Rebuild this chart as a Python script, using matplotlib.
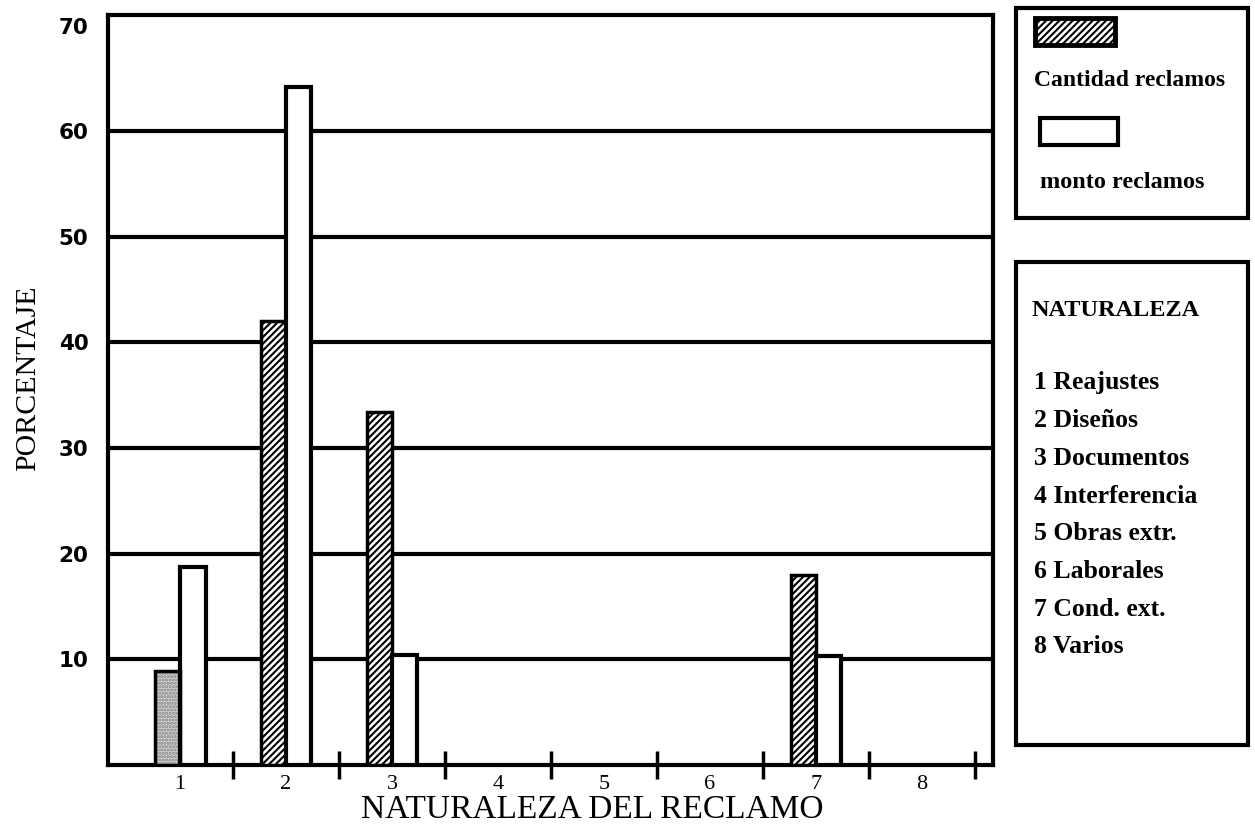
import matplotlib
matplotlib.use("Agg")
import matplotlib.pyplot as plt
from matplotlib.patches import Rectangle
import numpy as np

categories = [1, 2, 3, 4, 5, 6, 7, 8]
cantidad = [8.9, 42.0, 33.4, 0, 0, 0, 18.0, 0]
monto = [18.7, 64.2, 10.4, 0, 0, 0, 10.3, 0]
y_ticks = [10, 20, 30, 40, 50, 60, 70]
naturaleza = ["1 Reajustes", "2 Diseños", "3 Documentos", "4 Interferencia",
              "5 Obras extr.", "6 Laborales", "7 Cond. ext.", "8 Varios"]

SERIF = ["Liberation Serif", "DejaVu Serif"]
plt.rcParams["hatch.linewidth"] = 1.5

fig = plt.figure(figsize=(12.55, 8.34), dpi=100)
ax = fig.add_axes([108/1255, 1-765/834, (993-108)/1255, (765-15)/834])

ax.set_xlim(0.32, 8.67)
ax.set_ylim(0, 71)

for y in y_ticks[:-1]:
    ax.axhline(y, color="black", lw=3, zorder=1)

x = np.array(categories, dtype=float)
w = 0.24
for i, (xc, c, m) in enumerate(zip(x, cantidad, monto)):
    if c > 0:
        if i == 0:
            ax.bar(xc - w/2, c, w, facecolor="#d4d4d4", edgecolor="#808080",
                   hatch=".....", lw=0, zorder=3)
            ax.bar(xc - w/2, c, w, fill=False, edgecolor="black", lw=2.5, zorder=4)
        else:
            ax.bar(xc - w/2, c, w, facecolor="white", edgecolor="black",
                   hatch="/////", lw=2.5, zorder=3)
    if m > 0:
        ax.bar(xc + w/2, m, w, facecolor="white", edgecolor="black",
               lw=3, zorder=3)

for s in ax.spines.values():
    s.set_linewidth(3)

ax.set_yticks(y_ticks)
ax.set_yticklabels([str(v) for v in y_ticks], family="DejaVu Sans",
                   fontweight="bold", fontsize=15.5)
ax.tick_params(axis="y", length=0, pad=14)

ax.set_xticks(categories)
ax.set_xticklabels([str(c) for c in categories], family=SERIF, fontsize=16)
ax.set_xticks(np.arange(1.5, 9, 1.0), minor=True)
ax.tick_params(axis="x", which="major", length=0, pad=7)
ax.tick_params(axis="x", which="minor", direction="inout", length=20, width=2.5)

ax.set_ylabel("PORCENTAJE", family=SERIF, fontsize=21.5)
ax.yaxis.set_label_coords((28-108)/885, (765-378)/750, transform=ax.transAxes)
ax.yaxis.label.set_va("center")
ax.set_xlabel("NATURALEZA DEL RECLAMO", family=SERIF, fontsize=24)
ax.xaxis.set_label_coords((592-108)/885, (765-810)/750, transform=ax.transAxes)
ax.xaxis.label.set_va("center")

W, H = 1255, 834
def fx(px): return px / W
def fy(py): return 1 - py / H

# legend box 1
fig.patches.append(Rectangle((fx(1016), fy(218)), fx(1248-1016), (218-8)/H,
                             transform=fig.transFigure, fill=False, lw=3, edgecolor="black"))
fig.patches.append(Rectangle((fx(1035), fy(45)), fx(80), 27/H,
                             transform=fig.transFigure, facecolor="white", edgecolor="black",
                             hatch="/////", lw=3.5))
fig.text(fx(1034), fy(81), "Cantidad reclamos", family=SERIF, fontsize=17,
         fontweight="bold", va="center", ha="left")
fig.patches.append(Rectangle((fx(1040), fy(145)), fx(78), 27/H,
                             transform=fig.transFigure, facecolor="white", edgecolor="black", lw=3))
fig.text(fx(1040), fy(183), "monto reclamos", family=SERIF, fontsize=17.5,
         fontweight="bold", va="center", ha="left")

# legend box 2
fig.patches.append(Rectangle((fx(1016), fy(745)), fx(1248-1016), (745-262)/H,
                             transform=fig.transFigure, fill=False, lw=3, edgecolor="black"))
fig.text(fx(1032), fy(310), "NATURALEZA", family=SERIF, fontsize=17.5,
         fontweight="bold", va="center", ha="left")
for i, t in enumerate(naturaleza):
    fig.text(fx(1034), fy(383 + i*37.7), t, family=SERIF, fontsize=18.5,
             fontweight="bold", va="center", ha="left")

fig.savefig("out.png", dpi=100)
